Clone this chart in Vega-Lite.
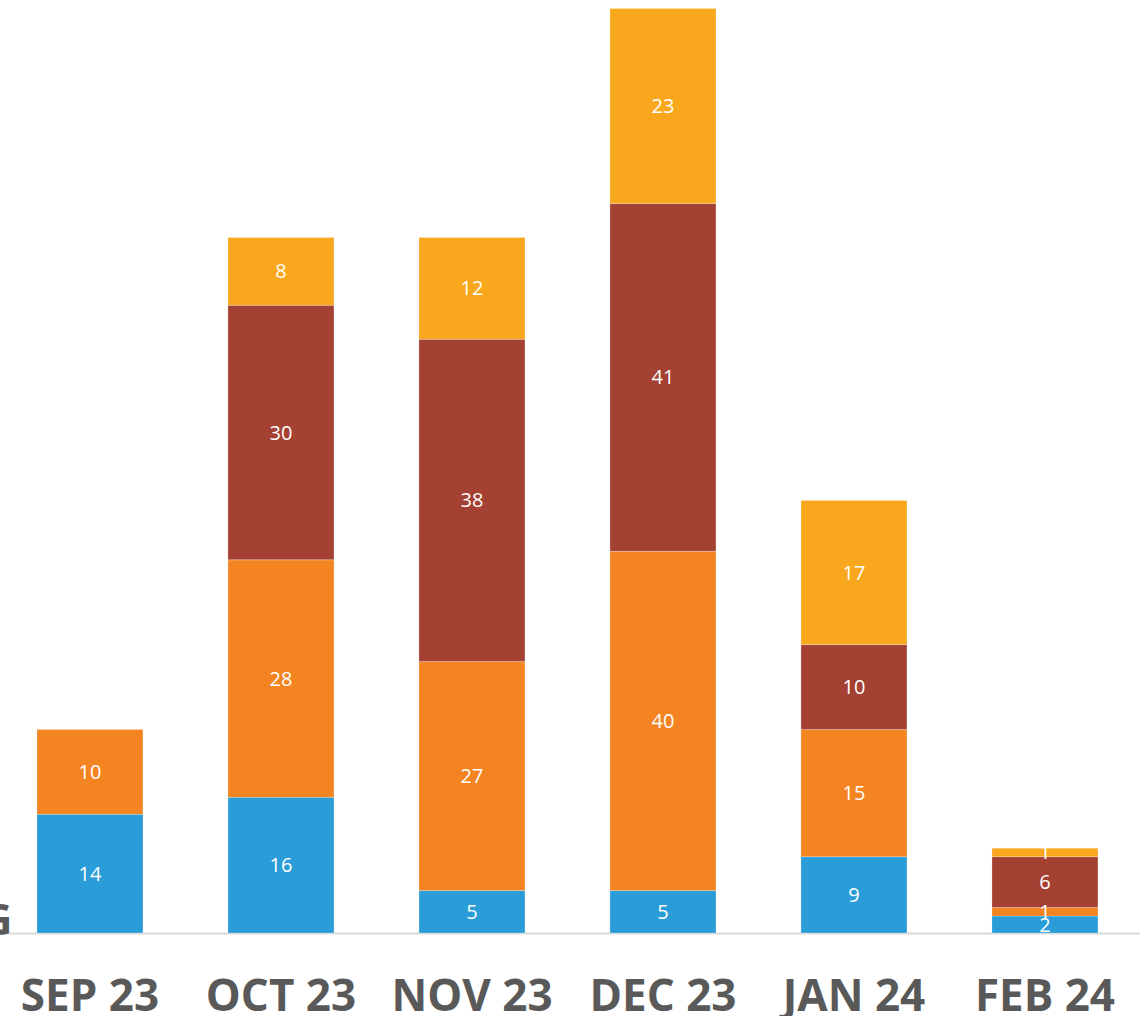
{
  "$schema": "https://vega.github.io/schema/vega-lite/v6.json",
  "width": 1140,
  "height": 933,
  "autosize": {"type": "none"},
  "padding": {"left": 0, "top": 0, "right": 0, "bottom": 83},
  "background": "white",
  "config": {"view": {"stroke": null}},
  "data": {
    "values": [
      {"month": "SEP 23", "series": "A", "order": 1, "value": 14},
      {"month": "SEP 23", "series": "B", "order": 2, "value": 10},
      {"month": "OCT 23", "series": "A", "order": 1, "value": 16},
      {"month": "OCT 23", "series": "B", "order": 2, "value": 28},
      {"month": "OCT 23", "series": "C", "order": 3, "value": 30},
      {"month": "OCT 23", "series": "D", "order": 4, "value": 8},
      {"month": "NOV 23", "series": "A", "order": 1, "value": 5},
      {"month": "NOV 23", "series": "B", "order": 2, "value": 27},
      {"month": "NOV 23", "series": "C", "order": 3, "value": 38},
      {"month": "NOV 23", "series": "D", "order": 4, "value": 12},
      {"month": "DEC 23", "series": "A", "order": 1, "value": 5},
      {"month": "DEC 23", "series": "B", "order": 2, "value": 40},
      {"month": "DEC 23", "series": "C", "order": 3, "value": 41},
      {"month": "DEC 23", "series": "D", "order": 4, "value": 23},
      {"month": "JAN 24", "series": "A", "order": 1, "value": 9},
      {"month": "JAN 24", "series": "B", "order": 2, "value": 15},
      {"month": "JAN 24", "series": "C", "order": 3, "value": 10},
      {"month": "JAN 24", "series": "D", "order": 4, "value": 17},
      {"month": "FEB 24", "series": "A", "order": 1, "value": 2},
      {"month": "FEB 24", "series": "B", "order": 2, "value": 1},
      {"month": "FEB 24", "series": "C", "order": 3, "value": 6},
      {"month": "FEB 24", "series": "D", "order": 4, "value": 1}
    ]
  },
  "encoding": {
    "x": {
      "field": "month",
      "type": "nominal",
      "sort": null,
      "scale": {"paddingInner": 0.445, "paddingOuter": 0.2068, "align": 0.468},
      "axis": {
        "title": null,
        "ticks": false,
        "domainColor": "#d9d9d9",
        "domainWidth": 2,
        "labelFont": "Open Sans",
        "labelFontWeight": "bold",
        "labelFontSize": 44,
        "labelColor": "#595959",
        "labelBaseline": "alphabetic",
        "labelPadding": 77,
        "labelAngle": 0
      }
    },
    "y": {
      "field": "value",
      "type": "quantitative",
      "stack": "zero",
      "scale": {"domain": [0, 110], "nice": false},
      "axis": {
        "title": "G",
        "titleAngle": 0,
        "titleAlign": "right",
        "titleBaseline": "alphabetic",
        "titleX": 12,
        "titleY": 934,
        "titleFont": "Open Sans",
        "titleFontWeight": "bold",
        "titleFontSize": 43,
        "titleColor": "#595959",
        "domain": false,
        "ticks": false,
        "labels": false,
        "grid": false
      }
    },
    "order": {"field": "order", "type": "quantitative"}
  },
  "layer": [
    {
      "mark": {"type": "bar", "stroke": "white", "strokeWidth": 0.6, "strokeOpacity": 0.4},
      "encoding": {
        "color": {
          "field": "series",
          "type": "nominal",
          "scale": {"domain": ["A", "B", "C", "D"], "range": ["#2A9DD8", "#F38421", "#A54133", "#F9A71C"]},
          "legend": null
        }
      }
    },
    {
      "mark": {"type": "text", "color": "white", "font": "Open Sans", "fontSize": 20, "baseline": "middle", "dy": 1},
      "encoding": {
        "y": {"field": "value", "type": "quantitative", "stack": "zero", "bandPosition": 0.5},
        "text": {"field": "value", "type": "quantitative"}
      }
    }
  ]
}
